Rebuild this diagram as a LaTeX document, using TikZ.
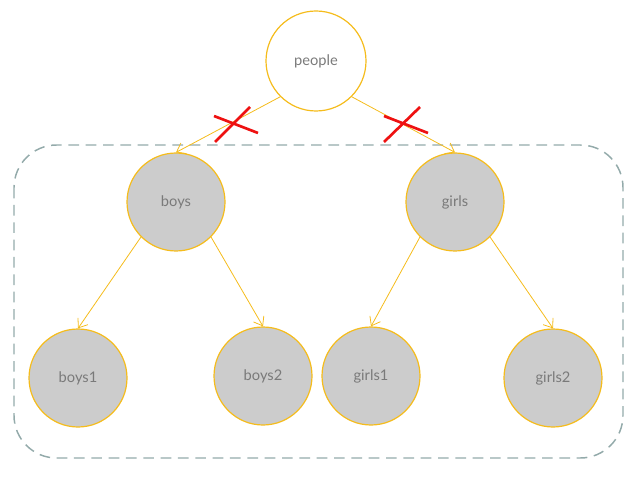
\documentclass[tikz,border=0pt]{standalone}
\usepackage{fontspec}
\setmainfont{Lato}
\usetikzlibrary{arrows.meta}
\definecolor{ringc}{HTML}{F5BC1C}
\definecolor{fillc}{HTML}{CCCCCC}
\definecolor{textc}{HTML}{7A7A7A}
\definecolor{dashc}{HTML}{93AAAA}
\definecolor{crossc}{HTML}{EE1111}
\begin{document}
\begin{tikzpicture}[x=0.75pt,y=-0.75pt,
  every node/.style={circle, draw=ringc, line width=0.9pt, minimum size=98*0.75pt, inner sep=0pt, font=\fontsize{11}{13}\selectfont, text=textc},
  child/.style={fill=fillc},
  link/.style={draw=ringc, line width=0.6pt, -{Straight Barb[length=6pt,width=9pt]}},
  cross/.style={draw=crossc, line width=2pt}]
\useasboundingbox (0,0) rectangle (642,477);
\draw[dashc, line width=1.1pt, dash pattern=on 8pt off 5pt, rounded corners=32pt] (14,145) rectangle (623,458);

\node[minimum size=100*0.75pt] (people) at (316,61) {people};
\node[child] (boys) at (176,202) {boys};
\node[child] (girls) at (455,202) {girls};
\node[child] (boys1) at (78,378) {boys1};
\node[child] (boys2) at (263,376) {boys2};
\node[child] (girls1) at (371,376) {girls1};
\node[child] (girls2) at (553,378) {girls2};

\draw[link] (people.south west) -- (boys.north);
\draw[link] (people.south east) -- (girls.north);
\draw[link] (boys.south west) -- (boys1.north);
\draw[link] (boys.south east) -- (boys2.north);
\draw[link] (girls.south west) -- (girls1.north);
\draw[link] (girls.south east) -- (girls2.north);

\draw[cross] (214,116) -- (258,133);
\draw[cross] (215,142) -- (250,107);
\draw[cross] (384,116) -- (428,133);
\draw[cross] (384,142) -- (420,107);
\end{tikzpicture}
\end{document}
